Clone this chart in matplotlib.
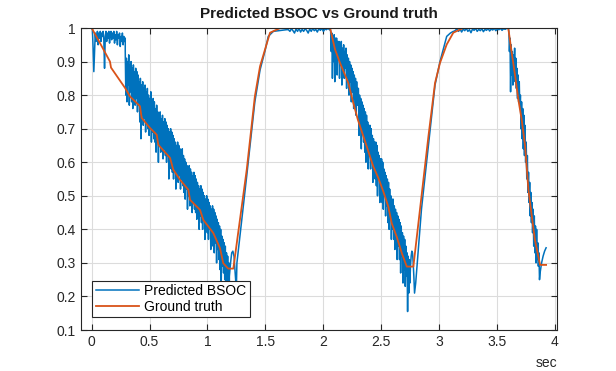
import numpy as np
import matplotlib
matplotlib.use("Agg")
from matplotlib import pyplot as plt

plt.rcParams['font.family'] = ['Liberation Sans', 'DejaVu Sans']

# ground truth (orange)
gt_t = [0.0, 0.086, 0.158, 0.167, 0.289, 0.331, 0.417, 0.432, 0.504, 0.562, 0.576, 0.677, 0.705,
        0.763, 0.835, 0.85, 0.936, 0.965, 1.051, 1.109, 1.137, 1.18, 1.224, 1.34, 1.41, 1.455,
        1.498, 1.541, 1.63, 2.06, 2.103, 2.146, 2.218, 2.26, 2.30, 2.377, 2.405, 2.434, 2.477,
        2.52, 2.563, 2.593, 2.636, 2.68, 2.723, 2.78, 2.91, 2.967, 3.01, 3.068, 3.125, 3.21,
        3.60, 3.63, 3.66, 3.687, 3.716, 3.745, 3.774, 3.80, 3.83, 3.875, 3.927]
gt_y = [1.0, 0.946, 0.90, 0.882, 0.821, 0.796, 0.767, 0.732, 0.702, 0.682, 0.652, 0.613, 0.578,
        0.548, 0.518, 0.488, 0.458, 0.428, 0.389, 0.344, 0.299, 0.283, 0.283, 0.578, 0.796, 0.886,
        0.936, 0.986, 1.0, 1.0, 0.936, 0.896, 0.836, 0.778, 0.727, 0.647, 0.617, 0.587, 0.553,
        0.513, 0.468, 0.418, 0.378, 0.329, 0.289, 0.289, 0.677, 0.836, 0.896, 0.951, 0.986, 1.0,
        1.0, 0.926, 0.856, 0.787, 0.727, 0.65, 0.518, 0.448, 0.369, 0.294, 0.294]

# predicted BSOC (blue), sampled segments: (start, end, values)
seg_a = (0.0, 0.29, [1.0, 0.995, 0.94, 0.87, 0.93, 0.985, 0.96, 0.97, 0.99, 0.95, 0.985, 0.97,
                     0.99, 0.96, 0.985, 0.975, 0.99, 0.965, 0.88, 0.975, 0.99, 0.96, 0.985, 0.97,
                     0.99, 0.955, 0.98, 0.99, 0.965, 0.985, 0.97, 0.99, 0.955, 0.98, 0.965, 0.99,
                     0.95, 0.98, 0.97, 0.985, 0.945, 0.975, 0.96, 0.985, 0.95, 0.975, 0.96, 0.97])
seg_b = (0.29, 1.19, [0.93, 0.80, 0.91, 0.78, 0.90, 0.83, 0.92, 0.77, 0.89, 0.81,
                      0.90, 0.78, 0.88, 0.76, 0.89, 0.80, 0.87, 0.77, 0.88, 0.79,
                      0.87, 0.75, 0.86, 0.77, 0.84, 0.72, 0.85, 0.67, 0.83, 0.74,
                      0.84, 0.71, 0.82, 0.73, 0.83, 0.69, 0.81, 0.72, 0.82, 0.70,
                      0.80, 0.68, 0.79, 0.70, 0.81, 0.66, 0.78, 0.69, 0.79, 0.67,
                      0.78, 0.66, 0.76, 0.63, 0.77, 0.67, 0.75, 0.60, 0.74, 0.65,
                      0.75, 0.63, 0.73, 0.65, 0.74, 0.61, 0.72, 0.64, 0.73, 0.62,
                      0.72, 0.60, 0.71, 0.62, 0.70, 0.55, 0.69, 0.60, 0.70, 0.58,
                      0.69, 0.57, 0.68, 0.55, 0.67, 0.58, 0.66, 0.52, 0.65, 0.56,
                      0.66, 0.54, 0.65, 0.56, 0.64, 0.52, 0.63, 0.55, 0.64, 0.53,
                      0.62, 0.51, 0.61, 0.49, 0.60, 0.52, 0.59, 0.46, 0.58, 0.50,
                      0.59, 0.47, 0.58, 0.49, 0.57, 0.45, 0.56, 0.48, 0.57, 0.46,
                      0.56, 0.45, 0.55, 0.43, 0.54, 0.46, 0.53, 0.40, 0.52, 0.44,
                      0.53, 0.42, 0.52, 0.40, 0.51, 0.43, 0.50, 0.37, 0.49, 0.41,
                      0.50, 0.39, 0.49, 0.37, 0.48, 0.40, 0.47, 0.34, 0.46, 0.38,
                      0.47, 0.35, 0.46, 0.33, 0.45, 0.36, 0.44, 0.30, 0.43, 0.34,
                      0.42, 0.31, 0.41, 0.28, 0.40, 0.24, 0.38, 0.29, 0.37, 0.27,
                      0.36, 0.25, 0.35, 0.21, 0.33, 0.23, 0.32, 0.19, 0.30, 0.22])
seg_b_arc = (1.19, 1.25, [0.26, 0.30, 0.33, 0.335, 0.32, 0.27, 0.22])
rise_1_t = [1.255, 1.34, 1.41, 1.455, 1.50, 1.526, 1.57, 1.685]
rise_1_y = [0.30, 0.56, 0.78, 0.875, 0.935, 0.975, 0.99, 0.995]
flat_1 = (1.70, 2.055, [0.995, 0.99, 0.998, 0.992, 0.985, 0.997, 0.99, 0.999, 0.988, 0.996,
                        0.99, 0.998, 0.993, 0.985, 0.997, 0.99, 0.999, 0.992, 0.996, 0.988,
                        0.998, 0.993, 0.999, 0.99, 0.997, 0.995, 0.999, 0.995])
seg_d = (2.06, 2.30, [1.0, 0.99, 0.93, 0.985, 0.85, 0.97, 0.90, 0.98, 0.84, 0.97, 0.88, 0.97,
                      0.86, 0.96, 0.91, 0.96, 0.85, 0.95, 0.89, 0.96, 0.83, 0.94, 0.87, 0.95,
                      0.85, 0.93, 0.88, 0.94, 0.82, 0.92, 0.85, 0.91, 0.80, 0.90, 0.84, 0.89,
                      0.78, 0.88, 0.81, 0.87, 0.76, 0.86, 0.79, 0.85, 0.74, 0.84, 0.77, 0.82])
seg_e = (2.305, 2.75, [0.82, 0.68, 0.80, 0.71, 0.79, 0.64, 0.78, 0.69, 0.77, 0.66,
                       0.76, 0.63, 0.75, 0.60, 0.74, 0.65, 0.72, 0.58, 0.71, 0.62,
                       0.71, 0.58, 0.70, 0.61, 0.68, 0.54, 0.67, 0.58, 0.66, 0.55,
                       0.66, 0.53, 0.65, 0.50, 0.63, 0.55, 0.62, 0.48, 0.61, 0.52,
                       0.61, 0.48, 0.60, 0.46, 0.58, 0.50, 0.57, 0.44, 0.56, 0.47,
                       0.55, 0.42, 0.54, 0.40, 0.52, 0.44, 0.50, 0.37, 0.49, 0.40,
                       0.49, 0.37, 0.47, 0.34, 0.46, 0.38, 0.45, 0.31, 0.44, 0.35,
                       0.43, 0.31, 0.42, 0.27, 0.41, 0.32, 0.39, 0.24, 0.38, 0.28,
                       0.37, 0.23, 0.35, 0.26, 0.33, 0.155, 0.32, 0.21, 0.31, 0.24])
seg_e_arc = (2.755, 2.79, [0.29, 0.32, 0.335, 0.33, 0.30, 0.26, 0.21])
rise_2_t = [2.80, 2.85, 2.92, 2.967, 3.01, 3.068, 3.10, 3.125]
rise_2_y = [0.24, 0.46, 0.68, 0.83, 0.90, 0.975, 0.985, 0.99]
flat_2 = (3.13, 3.60, [0.99, 0.993, 0.998, 0.99, 0.996, 0.988, 0.997, 0.992, 0.999, 0.99,
                       0.995, 0.986, 0.997, 0.993, 0.999, 0.99, 0.996, 0.992, 0.998, 0.989,
                       0.996, 0.993, 0.999, 0.991, 0.997, 0.994, 0.999, 0.992, 0.997, 0.995,
                       0.999, 0.993, 0.998, 0.996, 0.999, 1.0])
seg_g = (3.605, 3.87, [0.99, 0.93, 0.97, 0.81, 0.95, 0.86, 0.93, 0.83, 0.92, 0.87,
                       0.94, 0.84, 0.91, 0.82, 0.88, 0.79, 0.86, 0.78, 0.84, 0.76,
                       0.80, 0.70, 0.78, 0.67, 0.76, 0.64, 0.74, 0.62, 0.71, 0.60,
                       0.66, 0.55, 0.62, 0.51, 0.57, 0.48, 0.54, 0.44, 0.51, 0.42,
                       0.48, 0.39, 0.46, 0.35, 0.44, 0.33, 0.41, 0.30, 0.40, 0.31,
                       0.36, 0.29, 0.33, 0.25])
seg_g_arc = (3.875, 3.927, [0.27, 0.30, 0.32, 0.335, 0.345])

blue = "#0072BD"
orange = "#D95319"


def sampled(seg):
    t0, t1, vals = seg
    return np.linspace(t0, t1, len(vals)), np.array(vals)


parts_t = []
parts_y = []
for item in [seg_a, seg_b, seg_b_arc, (rise_1_t, rise_1_y), flat_1, seg_d, seg_e, seg_e_arc,
             (rise_2_t, rise_2_y), flat_2, seg_g, seg_g_arc]:
    if len(item) == 3:
        t, y = sampled(item)
    else:
        t, y = np.array(item[0]), np.array(item[1])
    parts_t.append(t)
    parts_y.append(y)
pred_t = np.concatenate(parts_t)
pred_y = np.concatenate(parts_y)

fig = plt.figure(figsize=(6.16, 3.71), dpi=100)
ax = fig.add_axes([0.131, 0.1105, 0.773, 0.814])

ax.plot(pred_t, pred_y, color=blue, lw=1.1, label="Predicted BSOC")
ax.plot(gt_t, gt_y, color=orange, lw=1.3, label="Ground truth")

ax.set_xlim(-0.095, 4.02)
ax.set_ylim(0.1, 1.0)
ax.set_xticks(np.arange(0, 4.01, 0.5))
ax.set_xticklabels(["0", "0.5", "1", "1.5", "2", "2.5", "3", "3.5", "4"])
ax.set_yticks(np.arange(0.1, 1.001, 0.1))
ax.set_yticklabels(["0.1", "0.2", "0.3", "0.4", "0.5", "0.6", "0.7", "0.8", "0.9", "1"])
ax.grid(True, color="#dcdcdc", lw=0.8)
ax.set_axisbelow(True)
ax.tick_params(direction="in", length=4, top=True, right=True, labelsize=10,
               colors="#262626", width=0.8)
for sp in ax.spines.values():
    sp.set_color("#262626")
    sp.set_linewidth(0.8)

ax.set_title("Predicted BSOC vs Ground truth", fontsize=11, fontweight="bold", color="#1a1a1a", pad=7)
ax.text(1.0, -0.085, "sec", transform=ax.transAxes, ha="right", va="top", fontsize=10, color="#262626")

leg = ax.legend(loc="lower left", bbox_to_anchor=(0.024, 0.043), borderaxespad=0, fontsize=10,
                fancybox=False, framealpha=1, edgecolor="#262626", handlelength=3.1,
                borderpad=0.25, labelspacing=0.1, handletextpad=0.4)
leg.get_frame().set_linewidth(0.8)

fig.savefig("out.png", dpi=100)
